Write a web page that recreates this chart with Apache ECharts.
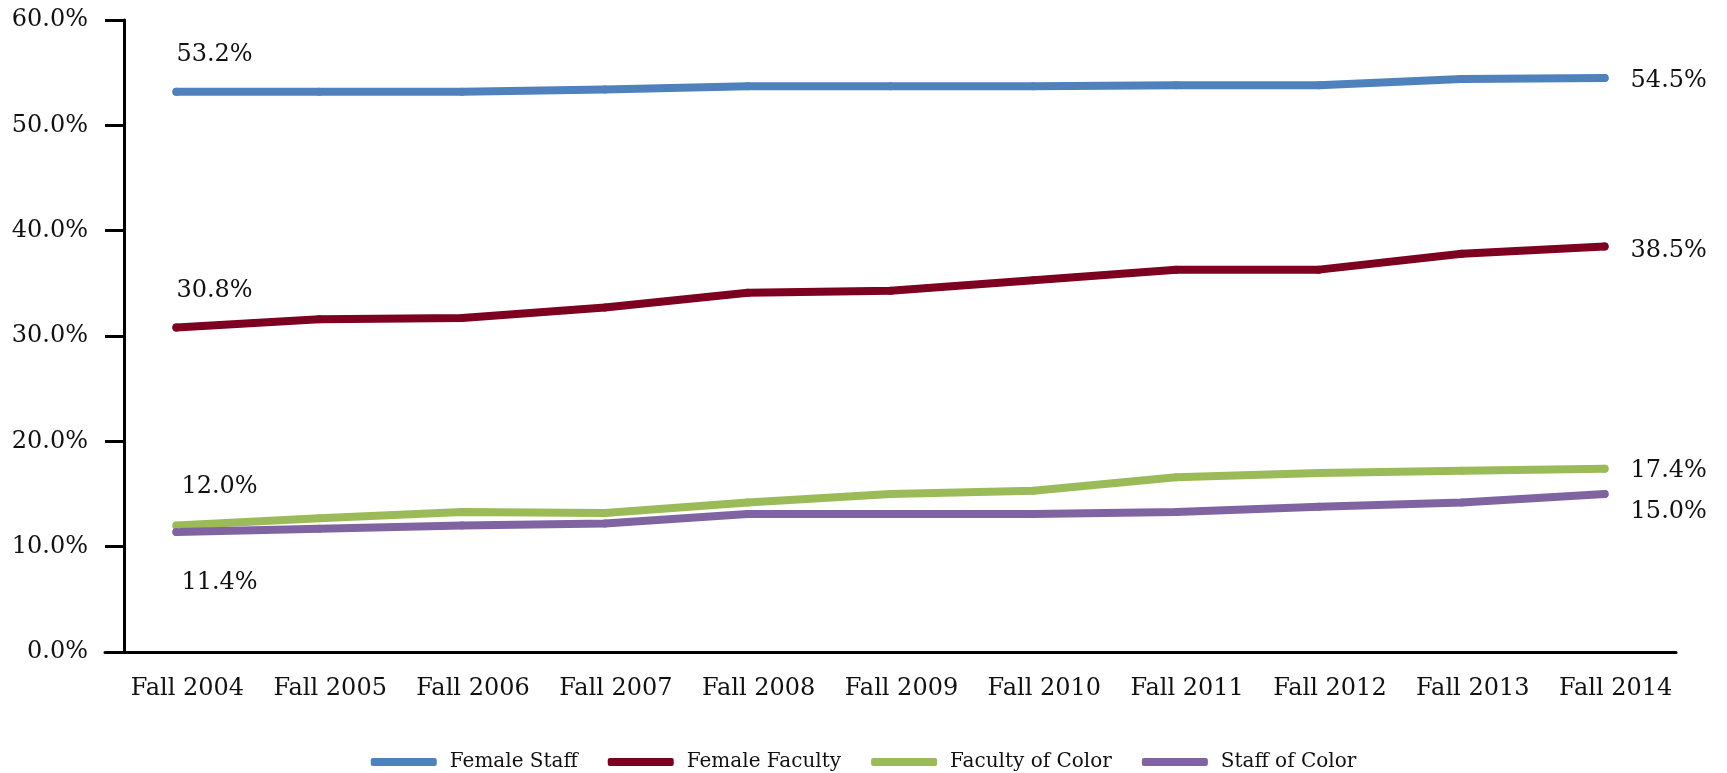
<!DOCTYPE html>
<html>
<head>
<meta charset="utf-8">
<script src="https://cdn.jsdelivr.net/npm/echarts@6/dist/echarts.min.js"></script>
<style>
html,body{margin:0;padding:0;background:#fff;}
#chart{width:1727px;height:773px;}
</style>
</head>
<body>
<div id="chart"></div>
<script>
const categories = ['Fall 2004','Fall 2005','Fall 2006','Fall 2007','Fall 2008','Fall 2009','Fall 2010','Fall 2011','Fall 2012','Fall 2013','Fall 2014'];
const femaleStaff   = [53.2, 53.2, 53.2, 53.4, 53.7, 53.7, 53.7, 53.8, 53.8, 54.4, 54.5];
const femaleFaculty = [30.8, 31.6, 31.7, 32.7, 34.1, 34.3, 35.3, 36.3, 36.3, 37.8, 38.5];
const facultyColor  = [12.0, 12.7, 13.3, 13.2, 14.2, 15.0, 15.3, 16.6, 17.0, 17.2, 17.4];
const staffColor    = [11.4, 11.7, 12.0, 12.2, 13.1, 13.1, 13.1, 13.3, 13.8, 14.2, 15.0];
const yTicks = [0, 10, 20, 30, 40, 50, 60];

const FONT = 'DejaVu Serif';
const TXT = '#111';

function pct(v){ return v.toFixed(1) + '%'; }

function withLabels(arr, firstLabel, lastLabel){
  return arr.map(function(v, i){
    if (i === 0 && firstLabel) return { value: v, label: Object.assign({ show: true }, firstLabel) };
    if (i === arr.length - 1 && lastLabel) return { value: v, label: Object.assign({ show: true }, lastLabel) };
    return v;
  });
}

const lblBase = { fontFamily: FONT, fontSize: 24, color: TXT, formatter: function(p){ return pct(p.value); } };

function series(name, color, arr, firstLabel, lastLabel){
  return {
    name: name,
    type: 'line',
    data: withLabels(arr, firstLabel ? Object.assign({}, lblBase, firstLabel) : null, lastLabel ? Object.assign({}, lblBase, lastLabel) : null),
    symbol: 'circle',
    symbolSize: 8,
    showSymbol: true,
    itemStyle: { color: color },
    lineStyle: { color: color, width: 8, cap: 'round', join: 'round' },
    label: { show: false },
    emphasis: { disabled: true },
    animation: false
  };
}

const chart = echarts.init(document.getElementById('chart'), null, { renderer: 'canvas' });
chart.setOption({
  backgroundColor: '#fff',
  animation: false,
  grid: { left: 105, right: 51, top: 20, bottom: 121, containLabel: false, outerBoundsMode: 'none' },
  legend: {
    top: 747,
    left: 'center',
    icon: 'roundRect',
    itemWidth: 66,
    itemHeight: 8,
    itemGap: 30,
    textStyle: { fontFamily: FONT, fontSize: 20, color: TXT, padding: [0, 0, 0, 8] },
    data: ['Female Staff', 'Female Faculty', 'Faculty of Color', 'Staff of Color']
  },
  xAxis: {
    type: 'category',
    data: categories,
    boundaryGap: true,
    axisLine: { show: true, lineStyle: { color: '#000', width: 3 } },
    axisTick: { show: false },
    axisLabel: { fontFamily: FONT, fontSize: 24, color: TXT, margin: 25, interval: 0, padding: [0, 0, 0, 22] },
    splitLine: { show: false }
  },
  yAxis: {
    type: 'value',
    min: yTicks[0],
    max: yTicks[yTicks.length - 1],
    interval: 10,
    offset: -19,
    axisLine: { show: true, lineStyle: { color: '#000', width: 3 } },
    axisTick: { show: true, inside: false, length: 19, lineStyle: { color: '#000', width: 3 } },
    axisLabel: { fontFamily: FONT, fontSize: 24, color: TXT, margin: 36, formatter: function(v){ return pct(v); } },
    splitLine: { show: false }
  },
  series: [
    series('Female Staff', '#4F81BD', femaleStaff,
      { position: 'top', align: 'left', distance: 21 },
      { position: 'right', distance: 22, offset: [0, 3] }),
    series('Female Faculty', '#7E0020', femaleFaculty,
      { position: 'top', align: 'left', distance: 21 },
      { position: 'right', distance: 22, offset: [0, 4] }),
    series('Faculty of Color', '#9BBB59', facultyColor,
      { position: 'top', align: 'left', distance: 23, offset: [5, 0] },
      { position: 'right', distance: 22, offset: [0, 2] }),
    series('Staff of Color', '#8064A2', staffColor,
      { position: 'bottom', align: 'left', distance: 35, offset: [5, 0] },
      { position: 'right', distance: 22, offset: [0, 18] })
  ]
});
</script>
</body>
</html>
